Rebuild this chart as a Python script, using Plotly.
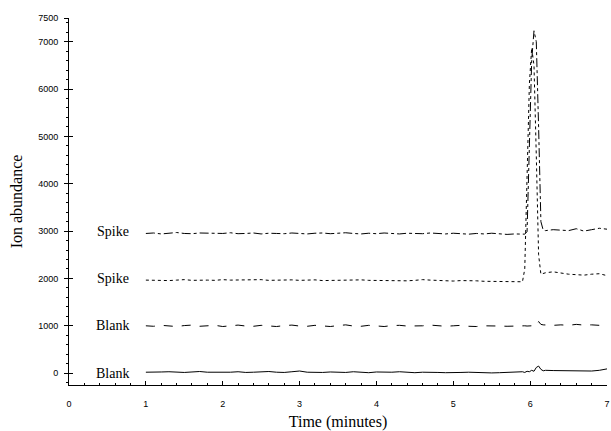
import plotly.graph_objects as go

# Time grid (minutes)
time = [1.0, 1.1, 1.2, 1.3, 1.4, 1.5, 1.6, 1.7, 1.8, 1.9,
        2.0, 2.1, 2.2, 2.3, 2.4, 2.5, 2.6, 2.7, 2.8, 2.9,
        3.0, 3.1, 3.2, 3.3, 3.4, 3.5, 3.6, 3.7, 3.8, 3.9,
        4.0, 4.1, 4.2, 4.3, 4.4, 4.5, 4.6, 4.7, 4.8, 4.9,
        5.0, 5.1, 5.2, 5.3, 5.4, 5.5, 5.6, 5.7, 5.8, 5.9,
        5.93, 5.96, 5.99, 6.02, 6.05, 6.08, 6.11, 6.14, 6.17, 6.2,
        6.3, 6.4, 6.5, 6.6, 6.7, 6.8, 6.9, 7.0]

spike_top = [2950, 2960, 2940, 2955, 2970, 2950, 2945, 2960, 2955, 2940,
             2950, 2965, 2945, 2950, 2960, 2940, 2955, 2950, 2945, 2960,
             2950, 2940, 2955, 2960, 2945, 2950, 2965, 2950, 2940, 2955,
             2945, 2960, 2950, 2940, 2955, 2950, 2945, 2960, 2950, 2940,
             2955, 2945, 2935, 2950, 2940, 2955, 2945, 2930, 2940, 2935,
             2935, 2990, 4600, 6600, 7230, 7000, 5200, 3200, 3020, 3010,
             3030, 3020, 3010, 3050, 3000, 3030, 3060, 3040]

spike_low = [1965, 1960, 1970, 1955, 1965, 1975, 1960, 1970, 1965, 1960,
             1975, 1965, 1970, 1960, 1965, 1975, 1960, 1965, 1955, 1970,
             1960, 1965, 1970, 1955, 1960, 1965, 1955, 1960, 1970, 1960,
             1955, 1965, 1960, 1955, 1950, 1960, 1975, 1965, 1955, 1950,
             1945, 1955, 1960, 1950, 1940, 1935, 1945, 1930, 1925, 1930,
             2200, 4200, 6100, 6870, 6500, 4600, 2500, 2090, 2110, 2120,
             2140, 2110, 2090, 2080, 2070, 2090, 2100, 2060]

blank_top = [1000, 990, 1010, 995, 985, 1005, 1015, 990, 1000, 1010,
             985, 1000, 1015, 995, 990, 1010, 1000, 985, 1005, 1015,
             995, 990, 1010, 1000, 985, 1005, 1020, 995, 990, 1010,
             1000, 985, 1005, 1010, 995, 990, 1000, 1015, 1005, 990,
             1000, 1010, 990, 985, 1000, 1005, 995, 990, 1000, 1005,
             1000, 995, 1005, 1000, 1005, 1000, 1090, 1030, 1020, 1015,
             1010, 1020, 1010, 1030, 1015, 1020, 1010, 1025]

blank_low = [20, 15, 25, 30, 20, 15, 25, 35, 20, 15,
             25, 20, 30, 15, 20, 25, 35, 20, 15, 30,
             45, 20, 10, 15, 25, 20, 15, 30, 20, 10,
             25, 15, 20, 30, 15, 10, 20, 25, 15, 10,
             5, 15, 20, 10, 15, 5, 10, 20, 15, 30,
             15, 40, 30, 60, 40, 120, 150, 80, 50, 60,
             55, 50, 45, 40, 50, 45, 60, 90]

labels = ["Spike", "Spike", "Blank", "Blank"]
label_y = [3000, 2000, 1000, 0]

y_ticks = [0, 1000, 2000, 3000, 4000, 5000, 6000, 7000, 7500]

fig = go.Figure()
series = [(spike_top, "dashdot"), (spike_low, "dot"), (blank_top, "dash"), (blank_low, "solid")]
for vals, dash in series:
    fig.add_trace(go.Scatter(x=time, y=vals, mode="lines",
                             line=dict(color="black", width=1, dash=dash),
                             showlegend=False, hoverinfo="skip"))

for lab, yv in zip(labels, label_y):
    fig.add_annotation(x=0.57, y=yv, text=lab, showarrow=False, xref="x", yref="y",
                       font=dict(family="Liberation Serif", size=14, color="black"))

fig.update_layout(
    width=611, height=431,
    margin=dict(l=69, r=4, t=18, b=46),
    paper_bgcolor="white", plot_bgcolor="white",
    font=dict(family="Liberation Sans", color="black"),
    yaxis2=dict(overlaying="y", matches="y", anchor="x", side="left",
                showline=False, showgrid=False, zeroline=False, automargin=False,
                ticks="inside", ticklen=4, tickcolor="black",
                tickmode="array", tickvals=y_ticks, showticklabels=False),
)
fig.update_xaxes(range=[0, 7], showline=True, linecolor="black", linewidth=1,
                 showgrid=False, zeroline=False, automargin=False,
                 ticks="inside", ticklen=4,
                 tickcolor="black", dtick=1, tick0=0,
                 tickfont=dict(family="Liberation Sans", size=9),
                 ticklabelstandoff=10,
                 minor=dict(dtick=0.2, ticks="inside", ticklen=2, tickcolor="black"),
                 title=dict(text="Time (minutes)", standoff=12,
                            font=dict(family="Liberation Serif", size=16)))
fig.layout.yaxis.update(range=[-250, 7500], showline=True, linecolor="black", linewidth=1,
                        showgrid=False, zeroline=False, automargin=False,
                        ticks="outside", ticklen=4,
                        tickcolor="black", tickmode="array", tickvals=y_ticks,
                        tickfont=dict(family="Liberation Sans", size=9),
                        ticklabelstandoff=4,
                        minor=dict(dtick=200, tick0=0, ticks="outside", ticklen=2, tickcolor="black"),
                        title=dict(text="Ion abundance", standoff=11,
                                   font=dict(family="Liberation Serif", size=16)))
# invisible helper trace so the overlay axis is drawn
fig.add_trace(go.Scatter(x=[time[0]], y=[label_y[-1]], yaxis="y2", mode="markers",
                         marker=dict(opacity=0), showlegend=False, hoverinfo="skip"))

fig.write_html("out.html")
